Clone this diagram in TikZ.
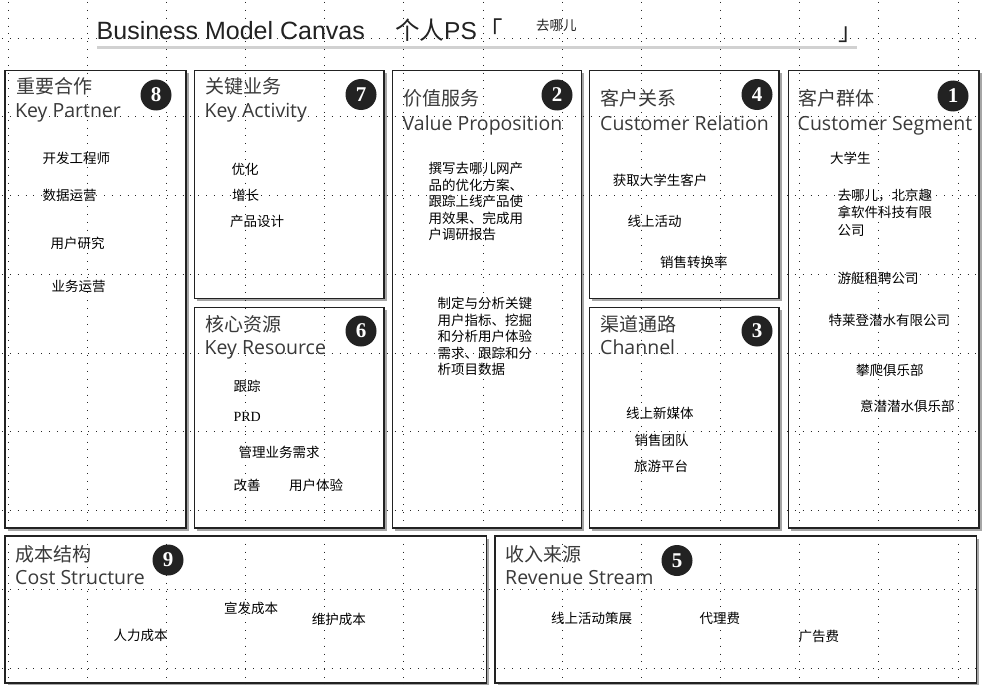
\documentclass[tikz,border=0pt]{standalone}
\usepackage{fontspec}
\usetikzlibrary{shadows}
\newfontfamily\cjk{Noto Sans CJK SC}
\newfontfamily\hdf{Open Sans}
\newfontfamily\ttlf{Liberation Sans}
\newfontfamily\serf{Liberation Serif}
\definecolor{ink}{HTML}{222222}
\definecolor{hdc}{HTML}{3A3A3A}
\begin{document}
\begin{tikzpicture}[x=1pt,y=-1pt,
 cbox/.style={fill=white, drop shadow={shadow xshift=2.5pt,shadow yshift=-2.5pt,fill=black,opacity=0.35}},
 frame/.style={draw=ink, line width=1.1pt},
 gridl/.style={draw=black!85, line width=0.85pt, dash pattern=on 0.85pt off 7pt},
 badge/.style={circle, fill=ink, minimum size=31pt, inner sep=0pt, text=white, font=\serf\bfseries\fontsize{21}{21}\selectfont},
 hzh/.style={anchor=base west, inner sep=0pt, text=hdc, font=\cjk\fontsize{19}{19}\selectfont},
 hen/.style={anchor=base west, inner sep=0pt, text=hdc, font=\hdf\fontsize{19.5}{19.5}\selectfont},
 item/.style={anchor=west, inner sep=0pt, text=black, font=\cjk\fontsize{13.5}{16.5}\selectfont},
 para/.style={anchor=north west, inner sep=0pt, align=left, text=black, font=\cjk\fontsize{13.5}{16.6}\selectfont},
]
\useasboundingbox[fill=white] (0,0) rectangle (983,685);

% boxes: white fill with shadow
\path[cbox] (5,70.5) rectangle (186,528);
\path[cbox] (194.5,70.5) rectangle (384,298.5);
\path[cbox] (194.5,307.5) rectangle (384,528);
\path[cbox] (392.5,70.5) rectangle (581.5,528);
\path[cbox] (589.5,70.5) rectangle (779,298.5);
\path[cbox] (589.5,307.5) rectangle (779,528);
\path[cbox] (788.5,70.5) rectangle (979,528);
\path[cbox] (5,536) rectangle (486.5,683);
\path[cbox] (495,536) rectangle (976.5,683);

% dotted grid
\foreach \k in {0,...,12} \draw[gridl] ({8+79.17*\k},2) -- ({8+79.17*\k},685);
\foreach \k in {0,...,8} \draw[gridl] (2,{38+78.75*\k}) -- (983,{38+78.75*\k});

% frames
\draw[frame] (5,70.5) rectangle (186,528);
\draw[frame] (194.5,70.5) rectangle (384,298.5);
\draw[frame] (194.5,307.5) rectangle (384,528);
\draw[frame] (392.5,70.5) rectangle (581.5,528);
\draw[frame] (589.5,70.5) rectangle (779,298.5);
\draw[frame] (589.5,307.5) rectangle (779,528);
\draw[frame] (788.5,70.5) rectangle (979,528);
\draw[frame] (5,536) rectangle (486.5,683);
\draw[frame] (495,536) rectangle (976.5,683);

% title
\draw[line width=2.5pt, black!18] (97,47.5) -- (857,47.5);
\node[anchor=base west, inner sep=0pt, text=ink, font=\ttlf\fontsize{25}{25}\selectfont] (title) at (96.5,39.5) {Business Model Canvas};
\node[anchor=base west, inner sep=0pt, text=ink, font=\ttlf\fontsize{24.5}{24.5}\selectfont] (ps) at (395,39.5) {{\cjk 个人}PS};
\node[anchor=base west, inner sep=0pt, text=ink, font=\cjk\fontsize{24.5}{24.5}\selectfont] (lq) at (478,39.5) {「};
\node[anchor=west, inner sep=0pt, text=ink, font=\cjk\fontsize{13.5}{13.5}\selectfont] (dest) at (536,25) {去哪儿};
\node[anchor=base west, inner sep=0pt, text=ink, font=\cjk\fontsize{24.5}{24.5}\selectfont] (rq) at (838,40.5) {」};

% headings
\node[hzh] (h8a) at (16,94) {重要合作};
\node[hen] (h8b) at (15,117.5) {Key Partner};
\node[hzh] (h7a) at (205,94) {关键业务};
\node[hen] (h7b) at (204.5,117.5) {Key Activity};
\node[hzh] (h2a) at (403,106) {价值服务};
\node[hen] (h2b) at (402.5,130) {Value Proposition};
\node[hzh] (h4a) at (600.5,106) {客户关系};
\node[hen] (h4b) at (600,130) {Customer Relation};
\node[hzh] (h1a) at (798,106) {客户群体};
\node[hen] (h1b) at (797.5,130) {Customer Segment};
\node[hzh] (h6a) at (205,331) {核心资源};
\node[hen] (h6b) at (204.5,354.5) {Key Resource};
\node[hzh] (h3a) at (600.5,331) {渠道通路};
\node[hen] (h3b) at (600,354.5) {Channel};
\node[hzh] (h9a) at (15.5,561) {成本结构};
\node[hen] (h9b) at (15,584) {Cost Structure};
\node[hzh] (h5a) at (505.5,561) {收入来源};
\node[hen] (h5b) at (505,584) {Revenue Stream};

% badges
\node[badge] (n8) at (156,95) {8};
\node[badge] (n7) at (361,94.5) {7};
\node[badge] (n2) at (557,95) {2};
\node[badge] (n4) at (757,94.5) {4};
\node[badge] (n1) at (953,96) {1};
\node[badge] (n6) at (361,331) {6};
\node[badge] (n3) at (757,331) {3};
\node[badge] (n9) at (168,560) {9};
\node[badge] (n5) at (677,560.5) {5};

% Key Partner items
\node[item] (kp1) at (42.5,158.3) {开发工程师};
\node[item] (kp2) at (42.5,195.7) {数据运营};
\node[item] (kp3) at (50.5,243.3) {用户研究};
\node[item] (kp4) at (51.5,286.7) {业务运营};
% Key Activity items
\node[item] (ka1) at (231.5,169) {优化};
\node[item] (ka2) at (232,195.7) {增长};
\node[item] (ka3) at (230,221.7) {产品设计};
% Value Proposition
\node[para] (vp1) at (428.3,162) {撰写去哪儿网产\\品的优化方案、\\跟踪上线产品使\\用效果、完成用\\户调研报告};
\node[para] (vp2) at (437.3,296.8) {制定与分析关键\\用户指标、挖掘\\和分析用户体验\\需求、跟踪和分\\析项目数据};
% Customer Relation
\node[item] (cr1) at (612.7,180) {获取大学生客户};
\node[item] (cr2) at (627.3,221.7) {线上活动};
\node[item] (cr3) at (660,262.7) {销售转换率};
% Customer Segment
\node[item] (cs1) at (830,158.3) {大学生};
\node[para, font=\cjk\fontsize{13.5}{17.4}\selectfont] (cs2) at (837.3,188.6) {去哪儿，北京趣\\拿软件科技有限\\公司};
\node[item] (cs3) at (837.3,278.3) {游艇租聘公司};
\node[item] (cs4) at (828.3,320.7) {特莱登潜水有限公司};
\node[item] (cs5) at (856,370.7) {攀爬俱乐部};
\node[item] (cs6) at (860,406) {意潜潜水俱乐部};
% Channel
\node[item] (ch1) at (626,413.3) {线上新媒体};
\node[item] (ch2) at (634.3,440) {销售团队};
\node[item] (ch3) at (634,466.7) {旅游平台};
% Key Resource
\node[item] (kr1) at (233.3,386) {跟踪};
\node[item, font=\serf\fontsize{14}{14}\selectfont] (kr2) at (233.3,417.3) {PRD};
\node[item] (kr3) at (238.3,452.7) {管理业务需求};
\node[item] (kr4) at (233.3,485.3) {改善};
\node[item] (kr5) at (289,485.3) {用户体验};
% Cost Structure
\node[item] (cost1) at (224,608.3) {宣发成本};
\node[item] (cost2) at (311.7,619.3) {维护成本};
\node[item] (cost3) at (113.3,635) {人力成本};
% Revenue Stream
\node[item] (rev1) at (551,618.3) {线上活动策展};
\node[item] (rev2) at (699.3,618.3) {代理费};
\node[item] (rev3) at (798.3,636) {广告费};
\end{tikzpicture}
\end{document}
